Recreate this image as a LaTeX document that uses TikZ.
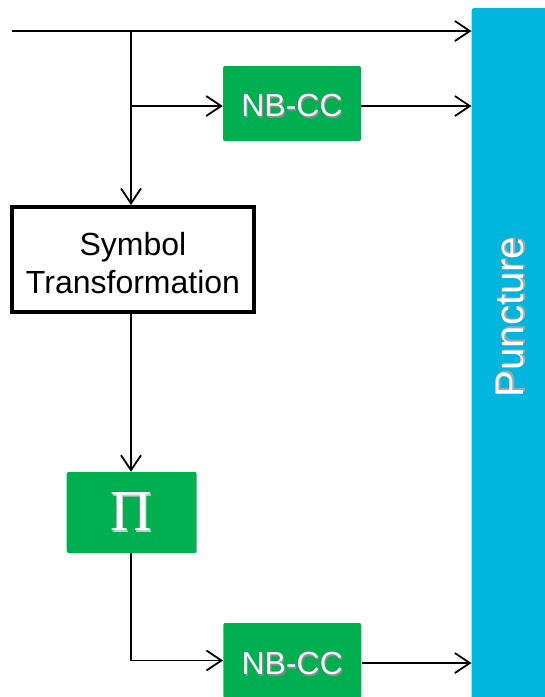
\documentclass[tikz,border=0pt]{standalone}
\usepackage{fontspec}
\setmainfont{Liberation Sans}
\newfontfamily\piserif{Liberation Serif}
\usetikzlibrary{arrows.meta,calc}
\definecolor{cgreen}{RGB}{0,176,80}
\definecolor{ccyan}{RGB}{0,182,221}
\newcommand\shtext[2][black!45]{\makebox[0pt][l]{\hspace{1.2pt}\raisebox{-1.2pt}{\textcolor{#1}{#2}}}#2}
\newcommand\dropby[2]{\raisebox{-#1}[\height][\depth]{#2}}
\begin{document}
\begin{tikzpicture}[x=1pt,y=-1pt,
  arr/.style={line width=1.8pt,-{Straight Barb[length=15pt,width=20pt,line width=1.8pt]}},
  greenbox/.style={fill=cgreen,rounded corners=2pt,minimum width=138pt,minimum height=75pt,inner sep=0pt,text=white,font=\fontsize{32}{38}\selectfont},
  stbox/.style={draw=black,line width=4pt,fill=white,minimum width=242pt,minimum height=105pt,inner sep=0pt,align=center,font=\fontsize{32}{38}\selectfont},
  pibox/.style={fill=cgreen,rounded corners=2pt,minimum width=130pt,minimum height=81pt,inner sep=0pt,text=white,font=\piserif\fontsize{58}{60}\selectfont},
  punctbar/.style={fill=ccyan,rounded corners=2pt,minimum width=80pt,minimum height=700pt,inner sep=0pt}]
\useasboundingbox (0,0) rectangle (545,697);
\begin{scope}
\clip (0,0) rectangle (545,697);
\node[punctbar,anchor=north west] (punct) at (471.5,8) {};
\node[rotate=90,text=white,font=\fontsize{40}{44}\selectfont] (plabel) at (511,317) {\shtext[black!35]{Puncture}};
\node[greenbox] (nb1) at (292,103.5) {\dropby{3pt}{\shtext{NB-CC}}};
\node[stbox] (st) at (133,259.5) {\dropby{4pt}{Symbol}\\\dropby{4pt}{Transformation}};
\node[pibox] (pi) at (131.7,512.5) {\shtext[black!20]{Π}};
\node[greenbox] (nb2) at (292.3,660.5) {\dropby{4pt}{\shtext{NB-CC}}};
\coordinate (in) at (12,31);
\coordinate (b1) at (131,31);
\coordinate (b2) at (131,106);
\draw[arr] (in) -- (in -| punct.west);
\draw[arr] (b1) -- (b1 |- st.north);
\draw[arr] (b2) -- (b2 -| nb1.west);
\draw[arr] (nb1.east |- b2) -- (b2 -| punct.west);
\draw[arr] (b1 |- st.south) -- (b1 |- pi.north);
\draw[arr] (b1 |- pi.south) |- (nb2.west);
\draw[arr] ($(nb2.east)+(0,2.5)$) -- ($(nb2.east -| punct.west)+(0,2.5)$);
\end{scope}
\end{tikzpicture}
\end{document}
